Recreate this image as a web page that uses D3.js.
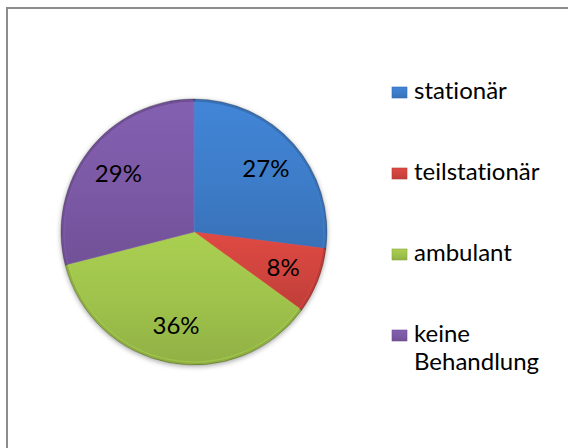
<!DOCTYPE html>
<html>
<head>
<meta charset="utf-8">
<script src="https://cdn.jsdelivr.net/npm/d3@7"></script>
<style>
    body { margin: 0; background: #fff; }
    text { font-family: Lato, "Open Sans", sans-serif; font-variant-ligatures: none; }
</style>
</head>
<body>
<script>
var categories = ["stationär", "teilstationär", "ambulant", "keine Behandlung"];
var values = [27, 8, 36, 29];
var colors = ["#3d7cc8", "#d0443e", "#9ec24b", "#7b59a5"];
var legendLines = [["stationär"], ["teilstationär"], ["ambulant"], ["keine", "Behandlung"]];

var width = 568, height = 448;
var cx = 194, cy = 232, radius = 133;

var svg = d3.select("body")
    .append("svg")
    .attr("width", width)
    .attr("height", height);

var defs = svg.append("defs");

// soft shadow under the pie
var shadow = defs.append("filter")
    .attr("id", "shadow")
    .attr("x", "-20%").attr("y", "-20%")
    .attr("width", "140%").attr("height", "140%");
shadow.append("feDropShadow")
    .attr("dx", 0).attr("dy", 1.5)
    .attr("stdDeviation", 2.5)
    .attr("flood-color", "#000")
    .attr("flood-opacity", 0.35);

// bevel look for slices and legend keys
colors.forEach(function (c, i) {
    var g = defs.append("linearGradient")
        .attr("id", "grad" + i)
        .attr("x1", 0).attr("y1", 0)
        .attr("x2", 0).attr("y2", 1);
    g.append("stop").attr("offset", "0%").attr("stop-color", d3.color(c).brighter(0.2));
    g.append("stop").attr("offset", "55%").attr("stop-color", c);
    g.append("stop").attr("offset", "100%").attr("stop-color", d3.color(c).darker(0.25));
});

// chart frame
svg.append("rect")
    .attr("x", 7)
    .attr("y", 8)
    .attr("width", 620)
    .attr("height", 500)
    .attr("fill", "none")
    .attr("stroke", "#8c8c8c")
    .attr("stroke-width", 2);

var pie = d3.pie()
    .sort(null)
    .value(function (d) { return d; });

var arcs = pie(values);

var arc = d3.arc()
    .innerRadius(0)
    .outerRadius(radius);

var inner = d3.arc()
    .innerRadius(0)
    .outerRadius(radius - 3);

var labelArc = d3.arc()
    .innerRadius(radius * 0.72)
    .outerRadius(radius * 0.72);

var pieG = svg.append("g")
    .attr("transform", "translate(" + cx + "," + cy + ")");

pieG.append("g")
    .attr("filter", "url(#shadow)")
    .selectAll("path")
    .data(arcs)
    .enter().append("path")
    .attr("d", arc)
    .attr("fill", function (d, i) { return d3.color(colors[i]).darker(0.3); })
    .attr("stroke", "rgba(0,0,0,0.3)")
    .attr("stroke-width", 0.8);

// lighter inner face for the bevel edge
pieG.append("g")
    .selectAll("path")
    .data(arcs)
    .enter().append("path")
    .attr("d", inner)
    .attr("fill", function (d, i) { return "url(#grad" + i + ")"; })
    .attr("stroke", function (d, i) { return d3.color(colors[i]).brighter(0.4); })
    .attr("stroke-opacity", 0.4)
    .attr("stroke-width", 1.2);

pieG.append("g")
    .selectAll("text")
    .data(arcs)
    .enter().append("text")
    .attr("transform", function (d) { return "translate(" + labelArc.centroid(d) + ")"; })
    .attr("text-anchor", "middle")
    .attr("dy", "0.35em")
    .attr("font-size", 24)
    .attr("fill", "#000")
    .text(function (d) {
        var total = d3.sum(values);
        return Math.round(d.value / total * 100) + "%";
    });

// legend
var legend = svg.append("g")
    .selectAll("g")
    .data(categories)
    .enter().append("g")
    .attr("transform", function (d, i) { return "translate(392," + (99 + i * 81) + ")"; });

legend.append("rect")
    .attr("x", 0)
    .attr("y", -12)
    .attr("width", 15)
    .attr("height", 11)
    .attr("fill", function (d, i) { return "url(#grad" + i + ")"; })
    .attr("stroke", function (d, i) { return d3.color(colors[i]).darker(0.4); })
    .attr("stroke-width", 0.6);

legend.append("text")
    .attr("x", 22)
    .attr("y", 0)
    .attr("font-size", 24)
    .attr("fill", "#000")
    .selectAll("tspan")
    .data(function (d, i) { return legendLines[i]; })
    .enter().append("tspan")
    .attr("x", 22)
    .attr("dy", function (d, j) { return j === 0 ? 0 : 28; })
    .text(function (d) { return d; });
</script>
</body>
</html>
